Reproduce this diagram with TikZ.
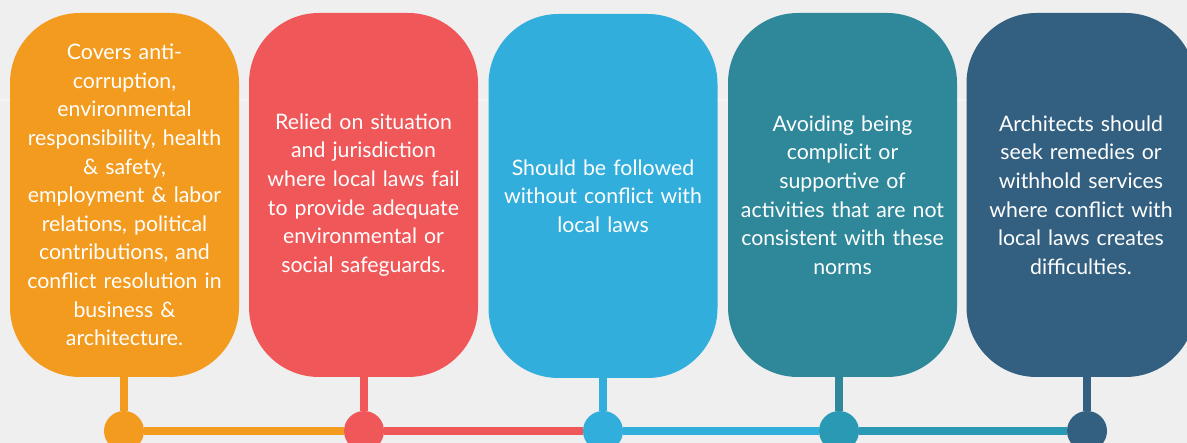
\documentclass[tikz,border=0pt]{standalone}
\usepackage{fontspec}
\setmainfont{Lato}
\definecolor{bgc}{HTML}{EFEFEF}
\definecolor{bandc}{HTML}{F5F5F5}
\definecolor{cA}{HTML}{F39B1F}
\definecolor{cB}{HTML}{F05759}
\definecolor{cC}{HTML}{32AEDC}
\definecolor{cD}{HTML}{2E8899}
\definecolor{cDl}{HTML}{2A99B3}
\definecolor{cE}{HTML}{336080}
\begin{document}
\begin{tikzpicture}[x=1pt,y=-1pt,
  box/.style={rounded corners=70pt, minimum width=229pt, minimum height=364pt,
    inner sep=0pt, text width=225pt, align=center, text=white,
    font=\fontsize{21.3}{28.6}\selectfont},
  dot/.style={circle, minimum size=40pt, inner sep=0pt},
  link/.style={line width=8pt}]
\useasboundingbox (0,0) rectangle (1187,443);
\fill[bgc] (0,0) rectangle (1187,443);
\fill[bandc] (0,99) rectangle (1187,101);
% boxes
\node[box, fill=cA] (b1) at (124.5,195) {Covers anti-\\corruption,\\environmental\\responsibility, health\\\& safety,\\employment \& labor\\relations, political\\contributions, and\\conflict resolution in\\business \&\\architecture.};
\node[box, fill=cB] (b2) at (363.5,195) {Relied on situation\\and jurisdiction\\where local laws fail\\to provide adequate\\environmental or\\social safeguards.};
\node[box, fill=cC] (b3) at (603,196) {Should be followed\\without conflict with\\local laws};
\node[box, fill=cD] (b4) at (842.5,195) {Avoiding being\\complicit or\\supportive of\\activities that are not\\consistent with these\\norms};
\node[box, fill=cE] (b5) at (1081,195) {Architects should\\seek remedies or\\withhold services\\where conflict with\\local laws creates\\difficulties.};
% dots
\node[dot, fill=cA] (c1) at (124,431) {};
\node[dot, fill=cB] (c2) at (364,431) {};
\node[dot, fill=cC] (c3) at (603,431) {};
\node[dot, fill=cDl] (c4) at (839,431) {};
\node[dot, fill=cE] (c5) at (1087,431) {};
% stems
\draw[link, cA] (b1.south -| c1) -- (c1);
\draw[link, cB] (b2.south -| c2) -- (c2);
\draw[link, cC] (b3.south -| c3) -- (c3);
\draw[link, cD] (b4.south -| c4) -- (c4);
\draw[link, cE] (b5.south -| c5) -- (c5);
% timeline
\draw[link, cA] (c1) -- (c2);
\draw[link, cB] (c2) -- (c3);
\draw[link, cC] (c3) -- (c4);
\draw[link, cDl] (c4) -- (c5);
\end{tikzpicture}
\end{document}
